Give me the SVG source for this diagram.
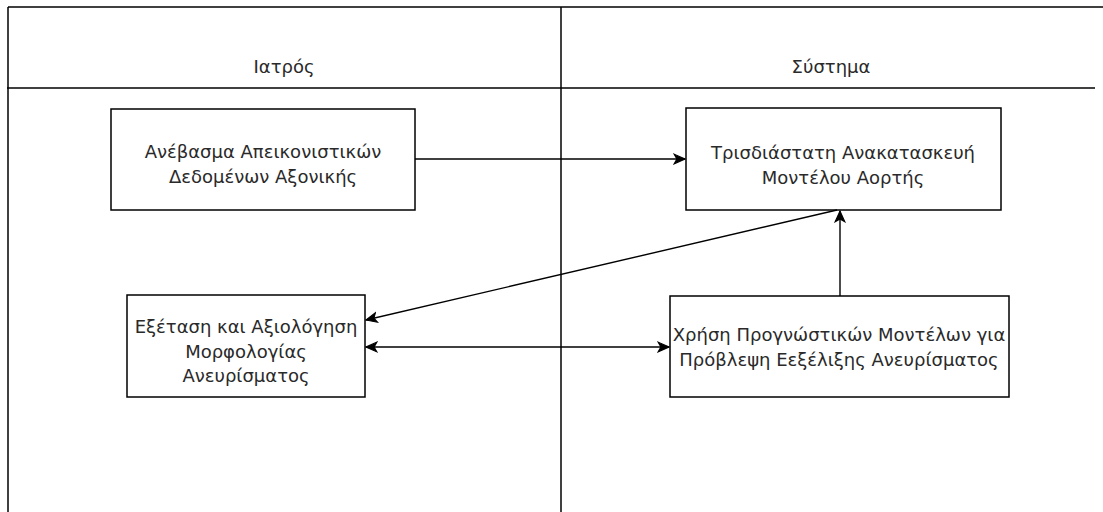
<svg xmlns="http://www.w3.org/2000/svg" width="1103" height="512" viewBox="0 0 1103 512">
  <style>
    .lane { stroke: #000; stroke-width: 1.5; fill: none; }
    .box { fill: #fff; stroke: #000; stroke-width: 1.5; }
    .label { font-family: "DejaVu Sans", "Liberation Sans", sans-serif; font-size: 18px; fill: #2a2a2a; text-anchor: middle; }
    .edge { stroke: #000; stroke-width: 1.4; fill: none; }
  </style>
  <defs>
    <marker id="arrow" viewBox="0 0 12 12" refX="11" refY="6" markerWidth="13" markerHeight="13" markerUnits="userSpaceOnUse" orient="auto-start-reverse">
      <path d="M1,1.5 L11,6 L1,10.5 L3.5,6 Z" fill="#000" stroke="#000" stroke-width="1"/>
    </marker>
  </defs>

  <!-- swimlane frame -->
  <g id="lanes">
    <line class="lane" x1="8" y1="7" x2="1103" y2="7"/>
    <line class="lane" x1="8" y1="7" x2="8" y2="512"/>
    <line class="lane" x1="561" y1="7" x2="561" y2="512"/>
    <line class="lane" x1="7" y1="88" x2="1095" y2="88"/>
    <text class="label" x="284" y="73">Ιατρός</text>
    <text class="label" x="831" y="73">Σύστημα</text>
  </g>

  <g id="upload">
    <rect class="box" x="111" y="109" width="304" height="101"/>
    <text class="label" x="263" y="158">Ανέβασμα Απεικονιστικών</text>
    <text class="label" x="263" y="183">Δεδομένων Αξονικής</text>
  </g>

  <g id="reconstruction">
    <rect class="box" x="686" y="108" width="315" height="102"/>
    <text class="label" x="843" y="159">Τρισδιάστατη Ανακατασκευή</text>
    <text class="label" x="843" y="184">Μοντέλου Αορτής</text>
  </g>

  <g id="evaluation">
    <rect class="box" x="127" y="295" width="238" height="102"/>
    <text class="label" x="246" y="333">Εξέταση και Αξιολόγηση</text>
    <text class="label" x="246" y="358">Μορφολογίας</text>
    <text class="label" x="246" y="382">Ανευρίσματος</text>
  </g>

  <g id="prediction">
    <rect class="box" x="670" y="296" width="339" height="101"/>
    <text class="label" x="839" y="341">Χρήση Προγνώστικών Μοντέλων για</text>
    <text class="label" x="839" y="366">Πρόβλεψη Εεξέλιξης Ανευρίσματος</text>
  </g>

  <g id="connectors">
    <line class="edge" x1="415" y1="159" x2="685" y2="159" marker-end="url(#arrow)"/>
    <line class="edge" x1="840" y1="296" x2="840" y2="211" marker-end="url(#arrow)"/>
    <line class="edge" x1="837" y1="210" x2="366" y2="320" marker-end="url(#arrow)"/>
    <line class="edge" x1="366" y1="347" x2="669" y2="347" marker-start="url(#arrow)" marker-end="url(#arrow)"/>
  </g>
</svg>
